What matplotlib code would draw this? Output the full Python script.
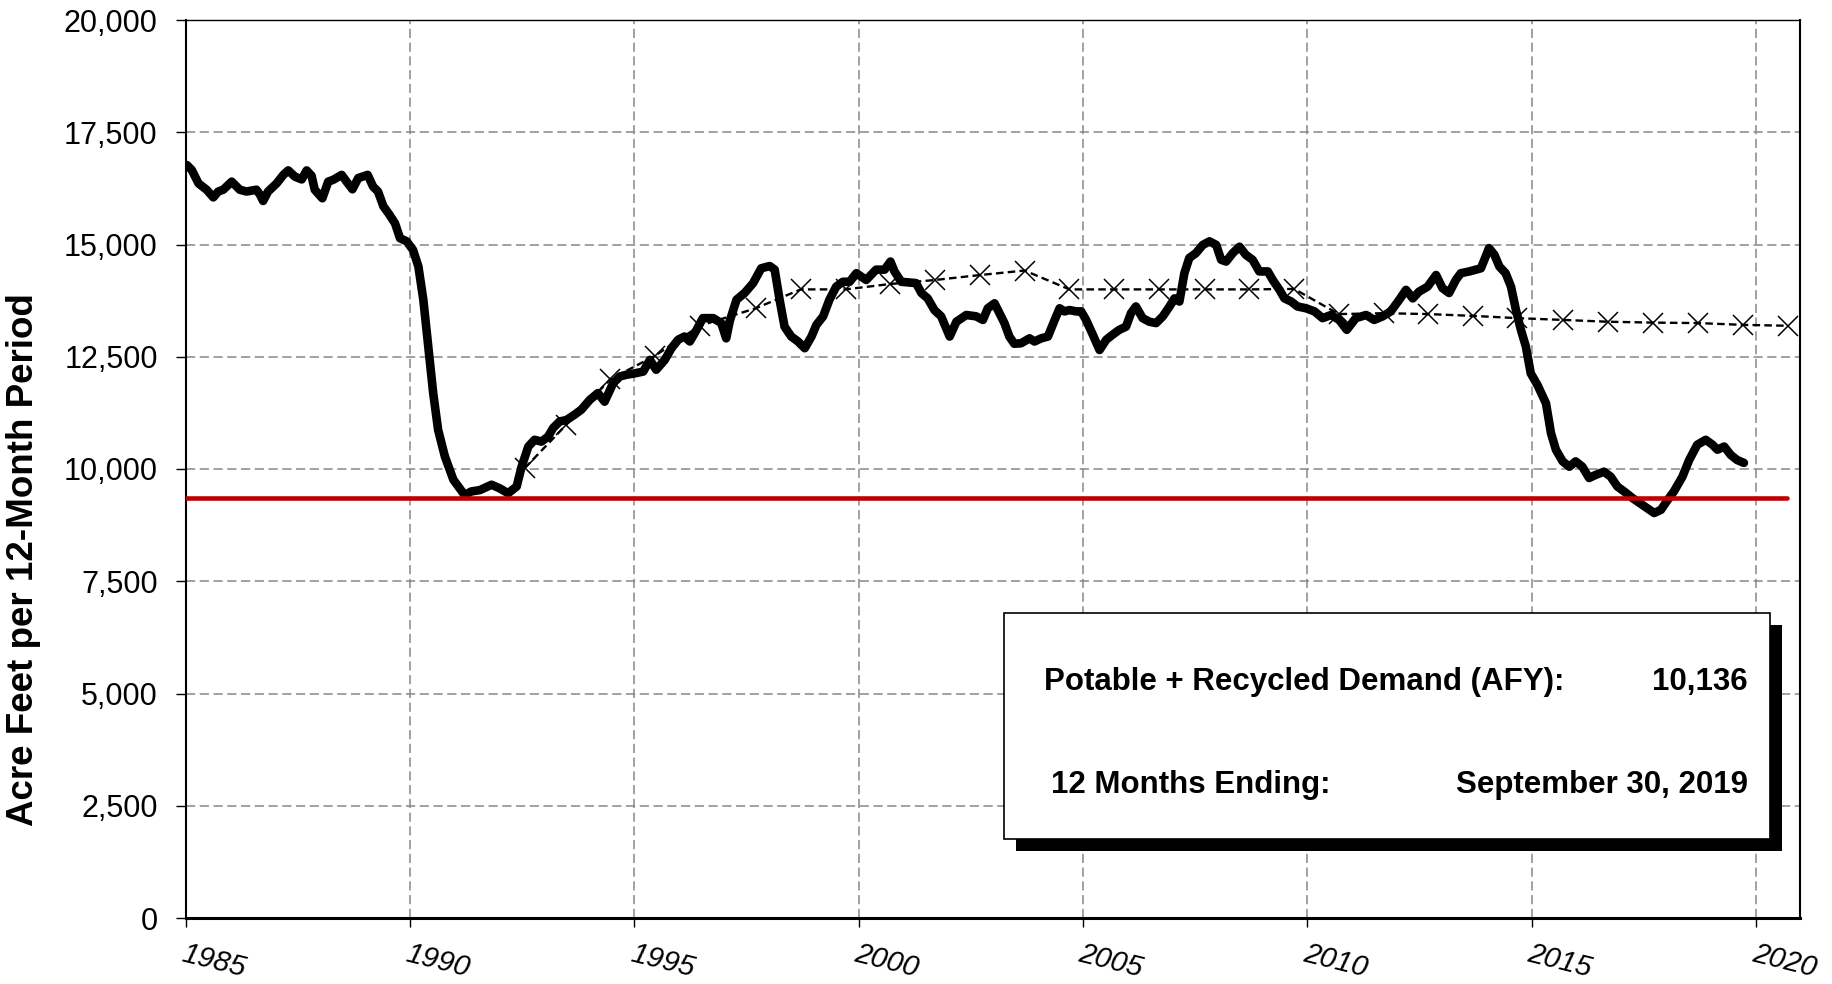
import matplotlib
matplotlib.use("Agg")
import matplotlib.pyplot as plt
from matplotlib.patches import Rectangle
from matplotlib.ticker import FuncFormatter, MultipleLocator

plt.rcParams['font.family'] = ['Liberation Sans', 'DejaVu Sans']

# rolling 12-month potable + recycled demand (acre feet)
demand_year = [
    1985.03, 1985.14, 1985.29, 1985.47, 1985.62, 1985.73, 1985.84, 1986.03, 1986.21, 1986.36,
    1986.47, 1986.58, 1986.66, 1986.73, 1986.84, 1987.03, 1987.18, 1987.29, 1987.44, 1987.59,
    1987.70, 1987.81, 1987.88, 1988.05, 1988.18, 1988.29, 1988.48, 1988.59, 1988.72, 1988.85,
    1989.06, 1989.18, 1989.29, 1989.41, 1989.52, 1989.67, 1989.78, 1989.93, 1990.07, 1990.19,
    1990.30, 1990.41, 1990.52, 1990.63, 1990.78, 1990.97, 1991.22, 1991.37, 1991.56, 1991.82,
    1992.00, 1992.19, 1992.38, 1992.49, 1992.64, 1992.78, 1992.93, 1993.08, 1993.19, 1993.34,
    1993.49, 1993.67, 1993.82, 1994.01, 1994.19, 1994.34, 1994.53, 1994.68, 1994.83, 1995.01,
    1995.20, 1995.35, 1995.49, 1995.68, 1995.83, 1995.98, 1996.12, 1996.24, 1996.39, 1996.53,
    1996.76, 1996.94, 1997.05, 1997.13, 1997.28, 1997.46, 1997.65, 1997.83, 1998.02, 1998.13,
    1998.24, 1998.35, 1998.50, 1998.65, 1998.80, 1998.95, 1999.06, 1999.21, 1999.35, 1999.50,
    1999.65, 1999.80, 1999.95, 2000.17, 2000.39, 2000.58, 2000.71, 2000.80, 2000.95, 2001.28,
    2001.40, 2001.54, 2001.69, 2001.84, 2002.03, 2002.18, 2002.40, 2002.62, 2002.77, 2002.88,
    2003.03, 2003.14, 2003.25, 2003.36, 2003.47, 2003.62, 2003.81, 2003.92, 2004.07, 2004.22,
    2004.37, 2004.48, 2004.59, 2004.70, 2004.85, 2004.96, 2005.07, 2005.22, 2005.37, 2005.52,
    2005.66, 2005.81, 2005.96, 2006.07, 2006.18, 2006.33, 2006.48, 2006.63, 2006.78, 2006.93,
    2007.04, 2007.15, 2007.26, 2007.37, 2007.52, 2007.67, 2007.82, 2007.97, 2008.08, 2008.19,
    2008.34, 2008.49, 2008.63, 2008.78, 2008.93, 2009.12, 2009.23, 2009.38, 2009.49, 2009.64,
    2009.78, 2009.97, 2010.16, 2010.34, 2010.53, 2010.71, 2010.88, 2011.08, 2011.31, 2011.49,
    2011.68, 2011.86, 2012.05, 2012.20, 2012.35, 2012.49, 2012.68, 2012.87, 2013.01, 2013.16,
    2013.31, 2013.42, 2013.61, 2013.87, 2014.05, 2014.17, 2014.28, 2014.42, 2014.54, 2014.65,
    2014.76, 2014.87, 2014.98, 2015.13, 2015.32, 2015.43, 2015.54, 2015.69, 2015.84, 2015.98,
    2016.13, 2016.28, 2016.43, 2016.61, 2016.76, 2016.91, 2017.06, 2017.25, 2017.47, 2017.73,
    2017.88, 2018.03, 2018.17, 2018.36, 2018.51, 2018.69, 2018.88, 2019.03, 2019.14, 2019.29,
    2019.44, 2019.58, 2019.73,
]
demand_afy = [
    16770, 16660, 16360, 16220, 16050, 16180, 16220, 16400, 16220, 16180,
    16200, 16220, 16110, 15970, 16180, 16360, 16550, 16650, 16510, 16450,
    16650, 16530, 16220, 16030, 16400, 16440, 16550, 16400, 16230, 16480,
    16550, 16290, 16180, 15850, 15700, 15470, 15140, 15070, 14880, 14510,
    13770, 12730, 11690, 10870, 10280, 9760, 9420, 9500, 9530, 9650,
    9570, 9460, 9610, 10050, 10500, 10650, 10610, 10720, 10910, 11060,
    11090, 11210, 11320, 11540, 11690, 11500, 11910, 12060, 12100, 12130,
    12170, 12430, 12210, 12430, 12690, 12880, 12950, 12840, 13100, 13360,
    13360, 13250, 12910, 13300, 13770, 13920, 14140, 14470, 14520, 14440,
    13770, 13170, 12950, 12840, 12690, 12950, 13210, 13400, 13770, 14060,
    14170, 14170, 14360, 14210, 14440, 14440, 14620, 14400, 14170, 14140,
    13920, 13800, 13540, 13400, 12950, 13280, 13430, 13400, 13320, 13580,
    13690, 13470, 13250, 12950, 12790, 12800, 12910, 12840, 12910, 12950,
    13320, 13580, 13510, 13540, 13510, 13510, 13320, 12990, 12650, 12880,
    12990, 13100, 13170, 13470, 13620, 13360, 13280, 13250, 13400, 13620,
    13800, 13730, 14360, 14700, 14810, 14990, 15070, 14990, 14660, 14620,
    14810, 14950, 14770, 14660, 14400, 14400, 14210, 13990, 13800, 13730,
    13620, 13580, 13510, 13360, 13430, 13320, 13100, 13360, 13430, 13320,
    13400, 13510, 13770, 13990, 13800, 13950, 14060, 14320, 14030, 13920,
    14210, 14360, 14400, 14470, 14920, 14770, 14510, 14360, 14060, 13540,
    13100, 12730, 12130, 11870, 11460, 10800, 10430, 10170, 10050, 10170,
    10050, 9800, 9870, 9940, 9830, 9610, 9500, 9350, 9200, 9020,
    9090, 9310, 9500, 9830, 10200, 10540, 10650, 10540, 10430, 10500,
    10310, 10200, 10136,
]

# projected demand (dashed line with x markers)
proj_year = [
    1992.56, 1993.48, 1994.47, 1995.46, 1996.46, 1997.71, 1998.71, 1999.71, 2000.70, 2001.71,
    2002.71, 2003.70, 2004.70, 2005.70, 2006.70, 2007.71, 2008.71, 2009.71, 2010.70, 2011.71,
    2012.70, 2013.70, 2014.68, 2015.70, 2016.70, 2017.71, 2018.71, 2019.71, 2020.71,
]
proj_afy = [
    10020, 10980, 12000, 12520, 13190, 13580, 14000, 14000, 14120, 14210,
    14320, 14420, 14000, 14000, 14000, 14000, 14000, 14010, 13450, 13470,
    13450, 13410, 13360, 13320, 13280, 13260, 13250, 13210, 13190,
]

red_level = 9360
red_span = [1985.0, 2020.68]

year_ticks = [1985, 1990, 1995, 2000, 2005, 2010, 2015, 2020]
demand_label = "Potable + Recycled Demand (AFY):"
demand_value = "10,136"
ending_label = "12 Months Ending:"
ending_value = "September 30, 2019"

W, H = 1832, 984
fig = plt.figure(figsize=(W / 100, H / 100), dpi=100)
ax = fig.add_axes([185.5 / W, 1 - 918 / H, 1614.5 / W, 898 / H])

ax.plot(demand_year, demand_afy, color='black', lw=6.2, solid_joinstyle='round',
        solid_capstyle='round', zorder=3)
ax.plot(proj_year, proj_afy, color='black', lw=1.7, linestyle=(0, (3.2, 1.8)),
        marker='x', markersize=14, markeredgewidth=1.1, zorder=4)
ax.plot(red_span, [red_level, red_level], color='#c00000', lw=3.3, solid_capstyle='round', zorder=5)

ax.set_xlim(1985, 2020.98)
ax.set_ylim(0, 20000)
ax.set_xticks(year_ticks)
ax.yaxis.set_major_locator(MultipleLocator(2500))
ax.yaxis.set_major_formatter(FuncFormatter(lambda v, p: f"{v:,.0f}"))

ax.grid(True, color='#888888', lw=1.1, linestyle=(0, (6, 3)))
ax.set_axisbelow(True)

for side, w in [('left', 1.5), ('right', 1.5), ('top', 1.0), ('bottom', 2.2)]:
    ax.spines[side].set_linewidth(w)
    ax.spines[side].set_color('black')

ax.tick_params(axis='y', direction='out', length=7, width=1, pad=13, labelsize=22)
ax.tick_params(axis='x', direction='out', length=6.5, width=1, pad=9, labelsize=21)
for lbl in ax.get_xticklabels():
    lbl.set_rotation(-14)
    lbl.set_ha('left')
    lbl.set_va('top')
    lbl.set_rotation_mode('anchor')
    lbl.set_fontstyle('italic')

fig.text(24 / W, 1 - 560 / H, "Acre Feet per 12-Month Period", rotation=90,
         ha='center', va='center', fontsize=26.5, fontweight='bold')

# info box with drop shadow
bx0, bx1 = (1004 - 185.5) / 1614.5, (1770 - 185.5) / 1614.5
by0, by1 = (918 - 839) / 898, (918 - 613) / 898
sdx, sdy = 12 / 1614.5, -12 / 898
ax.add_patch(Rectangle((bx0 + sdx, by0 + sdy), bx1 - bx0, by1 - by0, transform=ax.transAxes,
                       facecolor='black', edgecolor='none', zorder=8, clip_on=False))
ax.add_patch(Rectangle((bx0, by0), bx1 - bx0, by1 - by0, transform=ax.transAxes,
                       facecolor='white', edgecolor='black', lw=1.2, zorder=9, clip_on=False))

tkw = dict(transform=ax.transAxes, fontsize=22.5, fontweight='bold', va='center', zorder=10)
ax.text((1043.6 - 185.5) / 1614.5, (918 - 681.7) / 898, demand_label, ha='left', **tkw)
ax.text((1748 - 185.5) / 1614.5, (918 - 681.7) / 898, demand_value, ha='right', **tkw)
ax.text((1051 - 185.5) / 1614.5, (918 - 785) / 898, ending_label, ha='left', **tkw)
ax.text((1748 - 185.5) / 1614.5, (918 - 785) / 898, ending_value, ha='right', **tkw)

fig.savefig('out.png', dpi=100)
